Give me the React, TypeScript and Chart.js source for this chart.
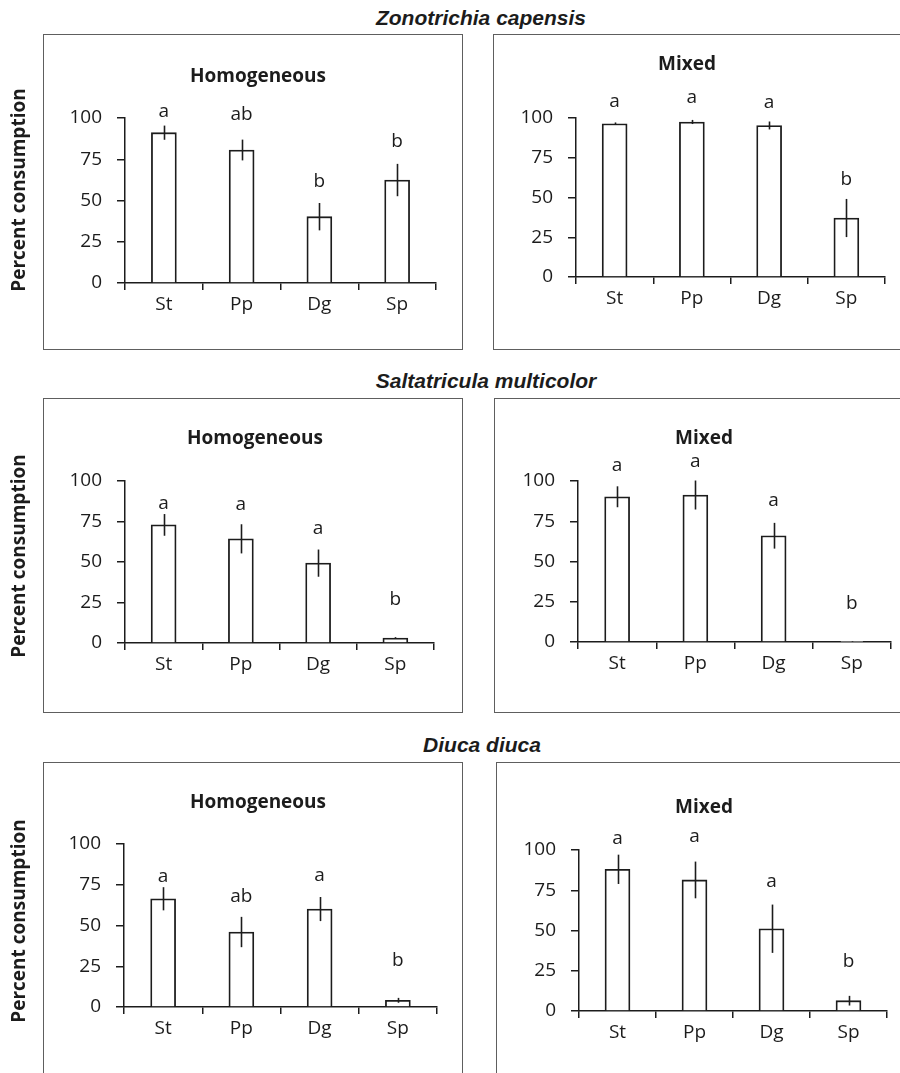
import React, { useEffect, useRef } from 'react';
import { Chart, registerables } from 'chart.js';

Chart.register(...registerables);

// ---------------- DATA ----------------
const categories = ['St', 'Pp', 'Dg', 'Sp'];
const yTickValues = [0, 25, 50, 75, 100];
const speciesNames = ['Zonotrichia capensis', 'Saltatricula multicolor', 'Diuca diuca'];
const treatmentNames = ['Homogeneous', 'Mixed'];
const yAxisLabel = 'Percent consumption';

// Zonotrichia capensis
const zcHomMeans = [91.1, 80.6, 40.2, 62.4];
const zcHomErrors = [4.3, 6.3, 8.3, 9.8];
const zcHomLetters = ['a', 'ab', 'b', 'b'];
const zcHomLetterLevels = [100.4, 98.8, 58.4, 82.6];

const zcMixMeans = [96.4, 97.5, 95.3, 37.1];
const zcMixErrors = [0.8, 1.3, 2.5, 12.0];
const zcMixLetters = ['a', 'a', 'a', 'b'];
const zcMixLetterLevels = [106.9, 109.4, 106.3, 58.0];

// Saltatricula multicolor
const smHomMeans = [72.9, 64.3, 49.3, 3.1];
const smHomErrors = [6.7, 9.0, 8.4, 0.5];
const smHomLetters = ['a', 'a', 'a', 'b'];
const smHomLetterLevels = [82.7, 82.1, 67.3, 23.6];

const smMixMeans = [90.2, 91.3, 66.0, 0.3];
const smMixErrors = [6.5, 9.0, 8.0, 0.2];
const smMixLetters = ['a', 'a', 'a', 'b'];
const smMixLetterLevels = [106.4, 108.9, 84.6, 20.8];

// Diuca diuca
const ddHomMeans = [66.4, 46.0, 60.1, 4.1];
const ddHomErrors = [7.1, 9.3, 7.4, 1.5];
const ddHomLetters = ['a', 'ab', 'a', 'b'];
const ddHomLetterLevels = [76.5, 64.2, 77.5, 24.9];

const ddMixMeans = [88.0, 81.4, 51.1, 6.4];
const ddMixErrors = [9.1, 11.4, 15.0, 3.0];
const ddMixLetters = ['a', 'a', 'a', 'b'];
const ddMixLetterLevels = [103.7, 105.2, 76.8, 27.1];

// ---------------- LAYOUT ----------------
const FONT = '"Open Sans"';
const INK = '#1c1c1c';
const TEXT_SIZE = 19;

type Area = { l: number; t: number; r: number; b: number };
type PanelSpec = {
  treatment: string;
  means: number[];
  errors: number[];
  letters: string[];
  letterLevels: number[];
  area: Area;
  title: { x: number; y: number };
  yLabel?: { x: number; y: number };
};

const rowBoxes = [
  { top: 34, bottom: 349, rightLeft: 493 },
  { top: 398, bottom: 712, rightLeft: 494 },
  { top: 762, bottom: 1100, rightLeft: 496 },
];
const leftBox = { left: 43, right: 462 };
const speciesTitlePos = [
  { x: 481, y: 18 },
  { x: 486, y: 381 },
  { x: 482, y: 745 },
];

const panels: PanelSpec[] = [
  { treatment: treatmentNames[0], means: zcHomMeans, errors: zcHomErrors, letters: zcHomLetters, letterLevels: zcHomLetterLevels,
    area: { l: 125, t: 118, r: 436, b: 283 }, title: { x: 258, y: 77 }, yLabel: { x: 20, y: 190 } },
  { treatment: treatmentNames[1], means: zcMixMeans, errors: zcMixErrors, letters: zcMixLetters, letterLevels: zcMixLetterLevels,
    area: { l: 576, t: 118, r: 885, b: 277 }, title: { x: 687, y: 65 } },
  { treatment: treatmentNames[0], means: smHomMeans, errors: smHomErrors, letters: smHomLetters, letterLevels: smHomLetterLevels,
    area: { l: 125, t: 481, r: 434, b: 643 }, title: { x: 255, y: 439 }, yLabel: { x: 20, y: 556 } },
  { treatment: treatmentNames[1], means: smMixMeans, errors: smMixErrors, letters: smMixLetters, letterLevels: smMixLetterLevels,
    area: { l: 578, t: 481, r: 891, b: 642 }, title: { x: 704, y: 439 } },
  { treatment: treatmentNames[0], means: ddHomMeans, errors: ddHomErrors, letters: ddHomLetters, letterLevels: ddHomLetterLevels,
    area: { l: 124, t: 844, r: 437, b: 1007 }, title: { x: 258, y: 803 }, yLabel: { x: 20, y: 921 } },
  { treatment: treatmentNames[1], means: ddMixMeans, errors: ddMixErrors, letters: ddMixLetters, letterLevels: ddMixLetterLevels,
    area: { l: 579, t: 850, r: 887, b: 1011 }, title: { x: 704, y: 808 } },
];

function Panel({ spec }: { spec: PanelSpec }) {
  const ref = useRef<HTMLCanvasElement>(null);
  const { area, title } = spec;
  const isLeft = !!spec.yLabel;
  const cx = isLeft ? 0 : area.l - 80;
  const cy = area.t - 100;
  const padRight = 12;
  const xAxisH = 40;
  const W = area.r + padRight - cx;
  const H = area.b + xAxisH - cy;
  const yWidth = area.l - cx;
  const padTop = area.t - cy;

  useEffect(() => {
    const canvas = ref.current!;
    const overlay = {
      id: 'overlay',
      afterDatasetsDraw(chart: any) {
        const ctx = chart.ctx;
        const yScale = chart.scales.y;
        const meta = chart.getDatasetMeta(0);
        ctx.save();
        // error bars
        ctx.strokeStyle = INK;
        ctx.lineWidth = 1.6;
        spec.means.forEach((m, i) => {
          const x = Math.round(meta.data[i].x) + 0.5;
          const yTop = yScale.getPixelForValue(m + spec.errors[i]);
          const yBot = yScale.getPixelForValue(Math.max(0, m - spec.errors[i]));
          ctx.beginPath();
          ctx.moveTo(x, yTop);
          ctx.lineTo(x, yBot);
          ctx.stroke();
        });
        // significance letters
        ctx.fillStyle = INK;
        ctx.font = `${TEXT_SIZE}px ${FONT}`;
        ctx.textAlign = 'center';
        ctx.textBaseline = 'alphabetic';
        spec.letters.forEach((s, i) => {
          ctx.fillText(s, meta.data[i].x, yScale.getPixelForValue(spec.letterLevels[i]));
        });
        // panel title
        ctx.font = `bold ${TEXT_SIZE}px ${FONT}`;
        ctx.textBaseline = 'middle';
        ctx.fillText(spec.treatment, title.x - cx, title.y - cy);
        // y axis label
        if (spec.yLabel) {
          ctx.translate(spec.yLabel.x - cx, spec.yLabel.y - cy);
          ctx.rotate(-Math.PI / 2);
          ctx.font = `bold ${TEXT_SIZE}px ${FONT}`;
          ctx.textBaseline = 'middle';
          ctx.fillText(yAxisLabel, 0, 0);
        }
        ctx.restore();
      },
    };

    const chart = new Chart(canvas, {
      type: 'bar',
      data: {
        labels: categories,
        datasets: [
          {
            data: spec.means,
            backgroundColor: '#ffffff',
            borderColor: INK,
            borderWidth: 1.8,
            borderSkipped: 'start',
            barThickness: 25,
          },
        ],
      },
      options: {
        responsive: false,
        animation: false,
        devicePixelRatio: 1,
        layout: { padding: { top: padTop, bottom: 0, left: 0, right: padRight } },
        plugins: {
          legend: { display: false },
          tooltip: { enabled: false },
          title: { display: false },
        },
        scales: {
          x: {
            type: 'category',
            grid: {
              offset: true,
              drawOnChartArea: false,
              drawTicks: true,
              tickLength: 7,
              color: INK,
              lineWidth: 1.5,
            },
            border: { display: true, color: INK, width: 1.5 },
            ticks: { color: INK, font: { family: FONT, size: TEXT_SIZE }, padding: 3 },
            afterFit: (scale: any) => {
              scale.height = xAxisH;
            },
          },
          y: {
            min: 0,
            max: 100,
            afterBuildTicks: (scale: any) => {
              scale.ticks = yTickValues.map((v) => ({ value: v }));
            },
            grid: {
              drawOnChartArea: false,
              drawTicks: true,
              tickLength: 8,
              color: INK,
              lineWidth: 1.5,
            },
            border: { display: true, color: INK, width: 1.5 },
            ticks: { color: INK, font: { family: FONT, size: TEXT_SIZE }, padding: 15 },
            afterFit: (scale: any) => {
              scale.width = yWidth;
            },
          },
        },
      },
      plugins: [overlay],
    } as any);
    return () => chart.destroy();
  }, []);

  return (
    <canvas
      ref={ref}
      width={W}
      height={H}
      style={{ position: 'absolute', left: cx, top: cy, width: W, height: H }}
    />
  );
}

export default function App() {
  return (
    <div
      style={{
        position: 'absolute',
        left: 0,
        top: 0,
        width: 900,
        height: 1073,
        overflow: 'hidden',
        background: '#ffffff',
      }}
    >
      {rowBoxes.map((rb, i) => (
        <React.Fragment key={'box' + i}>
          <div
            style={{
              position: 'absolute',
              left: leftBox.left,
              top: rb.top,
              width: leftBox.right - leftBox.left + 1,
              height: rb.bottom - rb.top + 1,
              border: '1px solid #5e5e5e',
              boxSizing: 'border-box',
            }}
          />
          <div
            style={{
              position: 'absolute',
              left: rb.rightLeft,
              top: rb.top,
              width: 440,
              height: rb.bottom - rb.top + 1,
              border: '1px solid #5e5e5e',
              boxSizing: 'border-box',
            }}
          />
          <div
            style={{
              position: 'absolute',
              left: speciesTitlePos[i].x,
              top: speciesTitlePos[i].y,
              transform: 'translate(-50%, -50%)',
              whiteSpace: 'nowrap',
              font: 'italic bold 21px "Liberation Sans", Arial, sans-serif',
              color: '#1c1c1c',
              lineHeight: '24px',
            }}
          >
            {speciesNames[i]}
          </div>
        </React.Fragment>
      ))}
      {panels.map((p, i) => (
        <Panel key={i} spec={p} />
      ))}
    </div>
  );
}
